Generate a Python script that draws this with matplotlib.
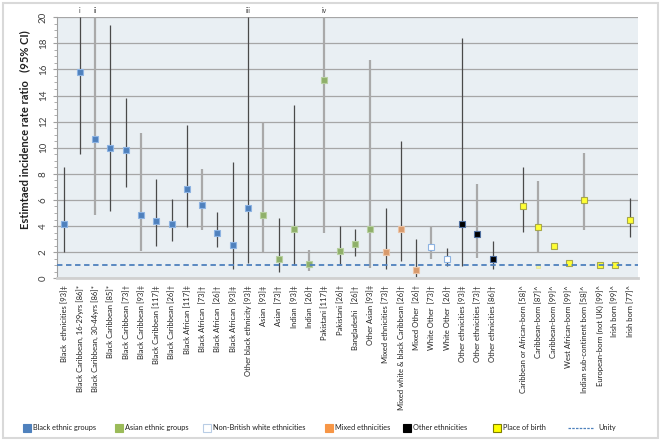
import numpy as np
import matplotlib
matplotlib.use("Agg")
import matplotlib.pyplot as plt
from matplotlib.patches import Rectangle
from matplotlib import font_manager

plt.rcParams["font.family"] = ["Lato", "DejaVu Sans"]

# categories (index 29 is an empty gap in the original chart)
labels = [
    "Black  ethnicities [93]‡", "Black Caribbean, 16-29yrs [86]*", "Black Caribbean, 30-44yrs [86]*",
    "Black Caribbean [85]*", "Black Caribbean [73]†", "Black Caribbean [93]‡",
    "Black Caribbean [117]‡", "Black Caribbean [26]†", "Black African [117]‡",
    "Black African  [73]†", "Black African  [26]†", "Black African  [93]‡",
    "Other black ethnicity [93]‡", "Asian  [93]‡", "Asian  [73]†", "Indian  [93]‡",
    "Indian  [26]†", "Pakistani [117]‡", "Pakistani [26]†", "Bangladeshi   [26]†",
    "Other Asian [93]‡", "Mixed ethnicities [73]†", "Mixed white & black Caribbean [26]†",
    "Mixed Other  [26]†", "White Other  [73]†", "White Other  [26]†",
    "Other ethnicities [93]‡", "Other ethnicities [73]†", "Other ethnicities [86]†", "",
    "Caribbean or African-born [58]^", "Caribbean-born [87]^", "Caribbean-born [99]^",
    "West African-born [99]^", "Indian sub-continent born [58]^", "European-born (not UK) [99]^",
    "Irish born [99]^", "Irish born [77]^",
]

nan = np.nan
# point estimates of the incidence rate ratio
irr = [4.13, 15.8, 10.7, 10.0, 9.82, 4.85, 4.38, 4.13, 6.82, 5.59, 3.46, 2.54, 5.38,
       4.82, 1.51, 3.8, 1.13, 15.2, 2.08, 2.59, 3.77, 2.05, 3.8, 0.67, 2.38, 1.44,
       4.15, 3.41, 1.49, nan, 5.54, 3.9, 2.44, 1.18, 5.97, 1.0, 1.0, 4.44]
# 95% CI (upper limits above 20 are cut at the top of the chart)
ci_low = [1.98, 9.5, 4.85, 5.18, 6.98, 2.1, 2.5, 2.82, 3.92, 3.69, 2.36, 0.69, 1.2,
          1.98, 0.48, 1.05, 0.56, 3.44, 1.05, 1.72, 0.82, 0.74, 1.33, 0.1, 1.44, 0.95,
          0.95, 1.59, 0.74, nan, 3.54, 2.03, nan, nan, 3.69, nan, nan, 3.18]
ci_high = [8.56, 20.0, 20.0, 19.4, 13.8, 11.1, 7.6, 6.08, 11.77, 8.36, 5.08, 8.9, 20.0,
           11.95, 4.59, 13.25, 2.2, 20.0, 4.0, 3.8, 16.7, 5.41, 10.5, 2.98, 4.0, 2.33,
           18.4, 7.2, 2.82, nan, 8.56, 7.46, nan, nan, 9.6, nan, nan, 6.13]
groups = ["black"] * 13 + ["asian"] * 8 + ["mixed"] * 3 + ["white"] * 2 + ["other"] * 3 \
    + [""] + ["birth"] * 8
# second faint estimate shown at Caribbean-born [87]
extra_idx = [31]
extra_val = [0.95]
notes = {1: "i", 2: "ii", 12: "iii", 17: "iv"}

legend_labels = ["Black ethnic groups", "Asian ethnic groups", "Non-British white ethnicities",
                 "Mixed ethnicities", "Other ethnicities", "Place of birth", "Unity"]

# style
group_style = {
    "black": ("#4F81BD", "#8DB3E2"),
    "asian": ("#8FB06A", "#B7CFA0"),
    "white": ("#FFFFFF", "#8DB3E2"),
    "mixed": ("#D99A6C", "#EBC3A5"),
    "other": ("#000000", "#4F6F9F"),
    "birth": ("#FFFF33", "#A8A84A"),
}
light_ci = {2, 5, 9, 13, 16, 17, 20, 24, 27, 31, 34}

# a narrow face for the category labels, if there is one (closer to Calibri)
tick_family = ["Lato", "DejaVu Sans"]
try:
    font_manager.findfont("Liberation Sans Narrow", fallback_to_default=False)
    tick_family = ["Liberation Sans Narrow", "DejaVu Sans"]
except ValueError:
    pass

fig = plt.figure(figsize=(6.61, 4.41), dpi=100)
ax = fig.add_axes([0.086, 0.369, 0.879, 0.592])
ax.set_facecolor("#E9EFF3")

x = np.arange(len(labels))
for i in x:
    if np.isnan(ci_low[i]):
        continue
    if i in light_ci:
        ax.vlines(i, ci_low[i], ci_high[i], color="#A9A9A9", lw=1.6, zorder=2)
    else:
        ax.vlines(i, ci_low[i], ci_high[i], color="#4A4A4A", lw=0.9, zorder=2)

for g, (fc, ec) in group_style.items():
    idx = [i for i in x if groups[i] == g]
    ax.plot(idx, [irr[i] for i in idx], ls="none", marker="s", ms=3.8,
            mfc=fc, mec=ec, mew=0.8, zorder=3)
ax.plot(extra_idx, extra_val, ls="none", marker="s", ms=3.2,
        mfc="#F4F4A0", mec="#E6E6A0", mew=0.6, zorder=3)

ax.axhline(1, color="#4F81BD", ls=(0, (3, 2)), lw=1.3, zorder=4)

for i, t in notes.items():
    ax.text(i, 20.25, t, ha="center", va="bottom", fontsize=5, color="#404040")

ax.set_xlim(-0.5, 37.5)
ax.set_ylim(0, 20)
ax.set_yticks(np.arange(0, 21, 2))
ax.set_yticks(np.arange(0, 20.1, 0.5), minor=True)
ax.set_yticklabels([str(v) for v in range(0, 21, 2)], rotation=90, va="center",
                   fontsize=7, color="#404040")
ax.tick_params(axis="y", which="both", direction="out", color="#A0A0A0", length=3)
ax.tick_params(axis="y", which="minor", length=2)
ax.grid(axis="y", which="major", color="#A6A6A6", lw=0.9)
ax.set_axisbelow(True)
ax.set_xticks(x)
ax.set_xticklabels(labels, rotation=90, fontsize=10, color="#202020", family=tick_family)
ax.tick_params(axis="x", length=0, pad=5)
for s in ["top", "right"]:
    ax.spines[s].set_visible(False)
ax.spines["left"].set_color("#A0A0A0")
ax.spines["bottom"].set_color("#D0D0D0")
ax.spines["bottom"].set_linewidth(2)

# shrink the tick labels so the longest one is ~125 px, as in the source
fig.canvas.draw()
renderer = fig.canvas.get_renderer()
longest = max(t.get_window_extent(renderer).height for t in ax.get_xticklabels())
for t in ax.get_xticklabels():
    t.set_fontsize(min(10 * 125 / longest, 7.5))

ax.set_ylabel("Estimtaed incidence rate ratio   (95% CI)", fontsize=8,
              fontweight="bold", color="#202020")
ax.yaxis.set_label_coords(-0.046, 0.571)

# legend drawn by hand along the bottom, as in the source chart
leg_colors = [("#4F81BD", "#4F81BD"), ("#9BBB59", "#9BBB59"), ("#FFFFFF", "#B9CDE5"),
              ("#F79646", "#F79646"), ("#000000", "#000000"), ("#FFFF00", "#7F7F00")]
leg_x = [23, 115, 203, 325, 403, 493]
W, H = 661.0, 441.0
yc = 1 - 427.5 / H
for lab, (fc, ec), px in zip(legend_labels[:6], leg_colors, leg_x):
    fig.patches.append(Rectangle((px / W, yc - 4 / H), 8 / W, 8 / H, transform=fig.transFigure,
                                 fc=fc, ec=ec, lw=0.8))
    fig.text((px + 10) / W, yc, lab, fontsize=5.3, va="center", ha="left", color="#202020")
fig.lines.append(plt.Line2D([568 / W, 593 / W], [yc, yc], transform=fig.transFigure,
                            color="#4F81BD", ls=(0, (2, 1)), lw=0.9))
fig.text(598 / W, yc, legend_labels[6], fontsize=5.3, va="center", ha="left", color="#202020")

fig.patches.append(Rectangle((0.004, 0.006), 0.991, 0.988, transform=fig.transFigure,
                             fill=False, ec="#D9D9D9", lw=1.5))

fig.savefig("out.png", dpi=100)
